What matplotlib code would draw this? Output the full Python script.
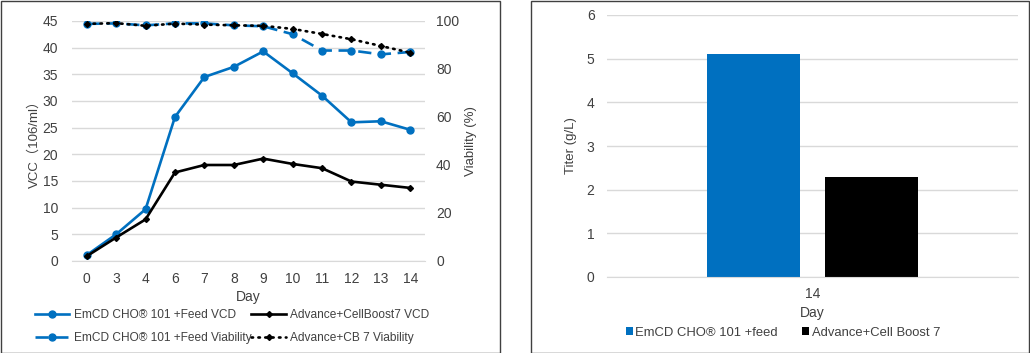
import matplotlib
matplotlib.use("Agg")
import matplotlib.pyplot as plt
from matplotlib.patches import Rectangle
import numpy as np

plt.rcParams['font.family'] = ['Liberation Sans', 'Noto Sans CJK SC', 'DejaVu Sans']
plt.rcParams['font.size'] = 8

days = ["0", "3", "4", "6", "7", "8", "9", "10", "11", "12", "13", "14"]
emcd_vcd = [1.1, 5.0, 9.7, 27.0, 34.5, 36.4, 39.3, 35.2, 31.0, 26.0, 26.2, 24.6]
adv_vcd = [0.9, 4.4, 7.8, 16.6, 18.0, 18.0, 19.2, 18.2, 17.4, 14.9, 14.3, 13.7]
emcd_via = [98.8, 99.0, 98.2, 99.0, 99.0, 98.2, 97.8, 94.5, 87.7, 87.7, 86.1, 87.1]
adv_via = [98.8, 99.1, 98.0, 98.9, 98.5, 98.2, 98.0, 96.7, 94.6, 92.4, 89.6, 86.8]

titer_cat = ["14"]
titer_emcd = [5.1]
titer_adv = [2.3]

BLUE = "#0070C0"
GRID = "#D9D9D9"
TXT = "#404040"
TICK_FS = 10
LAB_FS = 10

fig = plt.figure(figsize=(10.3, 3.53), dpi=100)

# panel borders
fig.patches.append(Rectangle((0.5/1030, 0.5/353), 499/1030, 351.5/353, transform=fig.transFigure,
                             fill=False, edgecolor="#404040", linewidth=1.0))
fig.patches.append(Rectangle((531/1030, 0.5/353), 498/1030, 351.5/353, transform=fig.transFigure,
                             fill=False, edgecolor="#404040", linewidth=1.0))

# ---- left chart ----
ax = fig.add_axes([72/1030, 1-261/353, (425-72)/1030, 240/353])
x = np.arange(len(days))
ax.set_xlim(-0.5, len(days)-0.5)
ax.set_ylim(0, 45)
ax.set_yticks(range(0, 46, 5))
ax.yaxis.grid(True, color=GRID, linewidth=1)
ax.set_axisbelow(True)
for s in ax.spines.values():
    s.set_visible(False)
ax.spines['bottom'].set_visible(True)
ax.spines['bottom'].set_color(GRID)
ax.tick_params(length=0, colors=TXT, labelsize=TICK_FS)
ax.tick_params(axis='y', pad=10)
ax.tick_params(axis='x', pad=8)
ax.set_xticks(x)
ax.set_xticklabels(days)
ax.set_xlabel("Day", color=TXT, fontsize=LAB_FS, labelpad=3)
ax.set_ylabel("VCC（106/ml）", color=TXT, fontsize=9.5, labelpad=1)

l1, = ax.plot(x, emcd_vcd, color=BLUE, lw=1.9, marker='o', ms=5, label="EmCD CHO® 101 +Feed VCD", zorder=3)
l2, = ax.plot(x, adv_vcd, color="black", lw=1.9, marker='D', ms=3, label="Advance+CellBoost7 VCD", zorder=3)

ax2 = ax.twinx()
ax2.set_ylim(0, 100)
ax2.set_yticks(range(0, 101, 20))
for s in ax2.spines.values():
    s.set_visible(False)
ax2.tick_params(length=0, colors=TXT, labelsize=TICK_FS, pad=8)
ax2.set_ylabel("Viability (%)", color=TXT, fontsize=9.5, labelpad=4)
l3, = ax2.plot(x, emcd_via, color=BLUE, lw=1.9, ls=(0, (5, 2.5)), marker='o', ms=5,
               label="EmCD CHO® 101 +Feed Viability", zorder=3)
l4, = ax2.plot(x, adv_via, color="black", lw=1.9, ls=(0, (0.6, 2.0)), dash_capstyle='round', marker='D', ms=3,
               label="Advance+CB 7 Viability", zorder=4)

leg = fig.legend(handles=[l1, l3, l2, l4], ncol=2, loc='lower left',
                 bbox_to_anchor=(30/1030, 4/353), frameon=False, fontsize=8.6,
                 handlelength=2.9, handletextpad=0.35, columnspacing=0.0, labelspacing=0.95,
                 borderaxespad=0)
for t in leg.get_texts():
    t.set_color(TXT)

# ---- right chart ----
bx = fig.add_axes([607/1030, 1-277/353, (1018-607)/1030, 262/353])
bx.set_xlim(-0.5, 0.5)
bx.set_ylim(0, 6)
bx.set_yticks(range(0, 7))
bx.yaxis.grid(True, color=GRID, linewidth=1)
bx.set_axisbelow(True)
for s in bx.spines.values():
    s.set_visible(False)
bx.spines['bottom'].set_visible(True)
bx.spines['bottom'].set_color(GRID)
bx.tick_params(length=0, colors=TXT, labelsize=TICK_FS, pad=9)
bx.tick_params(axis='x', pad=7)
xb = np.arange(len(titer_cat))
w = 0.226
b1 = bx.bar(xb - 0.143, titer_emcd, width=w, color=BLUE, label="EmCD CHO® 101 +feed")
b2 = bx.bar(xb + 0.143, titer_adv, width=w, color="black", label="Advance+Cell Boost 7")
bx.set_xticks(xb)
bx.set_xticklabels(titer_cat)
bx.set_xlabel("Day", color=TXT, fontsize=LAB_FS, labelpad=4)
bx.set_ylabel("Titer (g/L)", color=TXT, fontsize=9.5, labelpad=7)

leg2 = fig.legend(handles=[b1, b2], ncol=2, loc='center', bbox_to_anchor=(783/1030, 1-333/353),
                  frameon=False, fontsize=9.4, handlelength=0.55, handleheight=0.55,
                  handletextpad=0.2, columnspacing=1.85, borderaxespad=0)
for t in leg2.get_texts():
    t.set_color(TXT)

fig.savefig("out.png", dpi=100)
